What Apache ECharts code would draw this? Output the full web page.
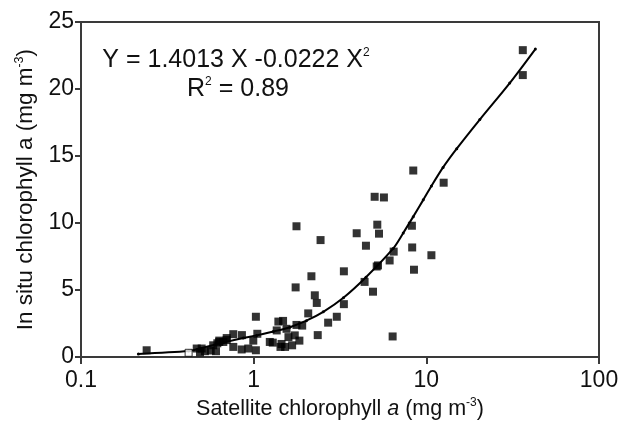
<!DOCTYPE html>
<html>
<head>
<meta charset="utf-8">
<script src="https://cdn.jsdelivr.net/npm/echarts@6/dist/echarts.min.js"></script>
<style>
  html, body { margin: 0; padding: 0; background: #fff; }
  #main { width: 622px; height: 425px; }
</style>
</head>
<body>
<div id="main"></div>
<script>
// satellite vs in situ chlorophyll a (mg m-3)
var satX = [0.24, 0.468, 0.489, 0.500, 0.522, 0.564, 0.583, 0.605, 0.616, 0.632,
            0.632, 0.667, 0.698, 0.698, 0.762, 0.762, 0.852, 0.855, 0.93, 0.995,
            1.03, 1.03, 1.05, 1.24, 1.29, 1.36, 1.39, 1.43, 1.45, 1.48,
            1.52, 1.55, 1.59, 1.67, 1.73, 1.75, 1.77, 1.77, 1.84, 1.91,
            2.07, 2.16, 2.26, 2.32, 2.35, 2.44, 2.70, 3.03, 3.33, 3.33,
            3.95, 4.39, 4.47, 4.91, 5.02, 5.16, 5.20, 5.25, 5.32, 5.68,
            6.13, 6.38, 6.47, 8.25, 8.28, 8.40, 8.48, 10.7, 12.6, 36.2, 36.2];
var insituY = [0.51, 0.64, 0.35, 0.64, 0.44, 0.49, 0.88, 0.44, 1.03, 1.23,
               1.13, 1.13, 1.27, 1.42, 1.71, 0.76, 0.57, 1.64, 0.64, 1.23,
               3.01, 0.51, 1.74, 1.13, 1.08, 1.99, 2.65, 0.76, 0.98, 2.70,
               0.76, 2.11, 1.49, 0.88, 1.62, 5.20, 9.76, 2.40, 1.23, 2.35,
               3.26, 6.03, 4.61, 4.04, 1.64, 8.73, 2.57, 3.01, 6.40, 3.95,
               9.24, 5.61, 8.31, 4.88, 11.96, 6.76, 9.88, 6.84, 9.21, 11.91,
               7.21, 1.54, 7.87, 9.80, 8.18, 13.92, 6.52, 7.60, 13.01, 22.9, 21.04];

// the single open square
var openX = [0.42];
var openY = [0.32];

// fitted curve
var fitX = [0.215, 0.42, 0.489, 0.667, 0.87, 1.04, 1.30, 1.62, 2.02, 2.53, 3.31,
            4.47, 6.43, 7.35, 8.40, 9.60, 10.7, 12.5, 15.0, 20.4, 30.4, 42.8];
var fitY = [0.24, 0.45, 0.65, 1.08, 1.42, 1.62, 1.91, 2.23, 2.72, 3.38, 4.43,
            5.96, 8.11, 9.26, 10.48, 11.73, 12.76, 14.15, 15.55, 17.72, 20.44, 22.98];

var xMin = 0.1, xMax = 100;
var yMin = 0, yMax = 25, yStep = 5;

var FONT = '"Liberation Sans", Arial, Helvetica, sans-serif';
var AXIS = '#3a3a3a';
var INK = '#111';

function pairs(xs, ys) {
  return xs.map(function (x, i) { return [x, ys[i]]; });
}

var chart = echarts.init(document.getElementById('main'), null, { renderer: 'canvas' });

chart.setOption({
  animation: false,
  backgroundColor: '#fff',
  textStyle: { fontFamily: FONT },
  grid: {
    left: 81, right: 23, top: 22, bottom: 63,
    show: true, borderColor: AXIS, borderWidth: 2, backgroundColor: 'transparent'
  },
  xAxis: {
    type: 'log',
    logBase: 10,
    min: xMin,
    max: xMax,
    axisLine: { lineStyle: { color: AXIS, width: 2 } },
    axisTick: { show: true, length: 7, lineStyle: { color: AXIS, width: 2 } },
    minorTick: { show: false },
    splitLine: { show: false },
    axisLabel: {
      fontSize: 23, color: INK, margin: 12, fontFamily: FONT,
      formatter: function (v) { return String(+(+v).toPrecision(3)); }
    },
    name: '{n|Satellite chlorophyll }{i|a}{n| (mg m}{s|-3}{n|)}',
    nameLocation: 'middle',
    nameGap: 34,
    nameTextStyle: {
      rich: {
        n: { fontSize: 21.5, color: INK, fontFamily: FONT },
        i: { fontSize: 21.5, color: INK, fontFamily: FONT, fontStyle: 'italic' },
        s: { fontSize: 12, color: INK, fontFamily: FONT, padding: [0, 0, 12, 0] }
      }
    }
  },
  yAxis: {
    type: 'value',
    min: yMin,
    max: yMax,
    interval: yStep,
    axisLine: { show: true, lineStyle: { color: AXIS, width: 2 } },
    axisTick: { show: true, length: 6, lineStyle: { color: AXIS, width: 2 } },
    splitLine: { show: false },
    axisLabel: { fontSize: 23, color: INK, margin: 7, fontFamily: FONT },
    name: '{n|In situ chlorophyll a (mg m}{s|-3}{n|)}',
    nameLocation: 'middle',
    nameGap: 42,
    nameTextStyle: {
      rich: {
        n: { fontSize: 22.5, color: INK, fontFamily: FONT },
        s: { fontSize: 12.5, color: INK, fontFamily: FONT, padding: [0, 0, 13, 0] }
      }
    }
  },
  graphic: [{
    type: 'text',
    x: 236, y: 60,
    style: {
      text: '{n|Y = 1.4013 X -0.0222 X}{s|2}',
      textAlign: 'center',
      textVerticalAlign: 'middle',
      rich: {
        n: { fontSize: 25, fill: INK, fontFamily: FONT },
        s: { fontSize: 12, fill: INK, fontFamily: FONT, padding: [0, 0, 14, 0] }
      }
    }
  }, {
    type: 'text',
    x: 238, y: 89,
    style: {
      text: '{n|R}{s|2}{n| = 0.89}',
      textAlign: 'center',
      textVerticalAlign: 'middle',
      rich: {
        n: { fontSize: 25, fill: INK, fontFamily: FONT },
        s: { fontSize: 12, fill: INK, fontFamily: FONT, padding: [0, 0, 14, 0] }
      }
    }
  }],
  series: [{
    name: 'fit',
    type: 'line',
    data: pairs(fitX, fitY),
    smooth: 0.3,
    symbol: 'circle',
    symbolSize: 3,
    showSymbol: true,
    lineStyle: { color: '#000', width: 2 },
    itemStyle: { color: '#000' },
    z: 3
  }, {
    name: 'obs',
    type: 'scatter',
    data: pairs(satX, insituY),
    symbol: 'rect',
    symbolSize: 8,
    itemStyle: { color: '#000' },
    z: 4
  }, {
    name: 'open',
    type: 'scatter',
    data: pairs(openX, openY),
    symbol: 'rect',
    symbolSize: 7,
    itemStyle: { color: '#fff', borderColor: '#000', borderWidth: 1 },
    z: 5
  }]
});
</script>
</body>
</html>
